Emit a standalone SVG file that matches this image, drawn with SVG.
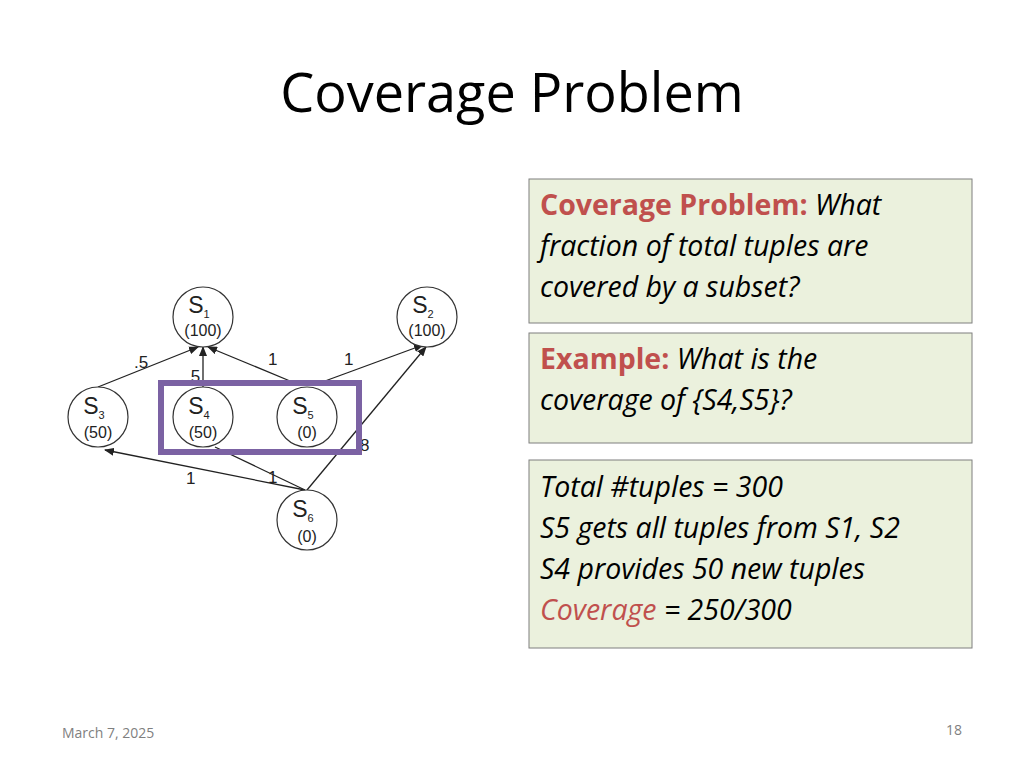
<svg xmlns="http://www.w3.org/2000/svg" width="1024" height="768" viewBox="0 0 1024 768">
<style>
.n{fill:#fff;stroke:#333;stroke-width:1.2}
.nl{font-family:"Liberation Sans",Arial,sans-serif;font-size:23px;fill:#222;text-anchor:middle}
.ns{font-size:11px}
.nv{font-family:"Liberation Sans",Arial,sans-serif;font-size:16px;fill:#222;text-anchor:middle}
.e{stroke:#222;stroke-width:1.3;fill:none}
.el{font-family:"Liberation Sans",Arial,sans-serif;font-size:17px;fill:#222}
.box{fill:#ebf1dd;stroke:#7f7f7f;stroke-width:1}
.t{font-family:"Open Sans","Liberation Sans",sans-serif;font-size:28.5px;font-style:italic;fill:#000}
.r{fill:#c0504d;font-style:normal;font-weight:bold}
</style>
<defs><marker id="a" markerWidth="10" markerHeight="8" refX="9" refY="4" orient="auto" markerUnits="userSpaceOnUse"><path d="M0,0L10,4L0,8z" fill="#222"/></marker></defs>
<rect width="1024" height="768" fill="#fff"/>
<text x="512" y="112" text-anchor="middle" font-family="Open Sans,Liberation Sans,sans-serif" font-size="54" fill="#000">Coverage Problem</text>
<g id="connectors">
<line class="e" x1="98" y1="387" x2="198" y2="347" marker-end="url(#a)"/>
<line class="e" x1="203" y1="387" x2="203" y2="347" marker-end="url(#a)"/>
<line class="e" x1="290" y1="381" x2="208" y2="347" marker-end="url(#a)"/>
<line class="e" x1="325" y1="381" x2="423" y2="345" marker-end="url(#a)"/>
<line class="e" x1="307" y1="490" x2="426" y2="347" marker-end="url(#a)"/>
<line class="e" x1="305" y1="490" x2="105" y2="450" marker-end="url(#a)"/>
<line class="e" x1="305" y1="490" x2="215" y2="447"/>
<text class="el" x="134" y="368">.5</text>
<text class="el" x="186" y="382">.5</text>
<text class="el" x="268" y="365">1</text>
<text class="el" x="344" y="365">1</text>
<text class="el" x="186" y="484">1</text>
<text class="el" x="268" y="483">1</text>
<text class="el" x="360" y="451">8</text>
</g>
<g id="S1"><circle class="n" cx="203" cy="317" r="30"/><text class="nl" x="199" y="313">S<tspan class="ns" dy="5">1</tspan></text><text class="nv" x="203" y="336">(100)</text></g>
<g id="S2"><circle class="n" cx="427" cy="317" r="30"/><text class="nl" x="423" y="313">S<tspan class="ns" dy="5">2</tspan></text><text class="nv" x="427" y="336">(100)</text></g>
<g id="S3"><circle class="n" cx="98" cy="417" r="30"/><text class="nl" x="94" y="414">S<tspan class="ns" dy="5">3</tspan></text><text class="nv" x="98" y="438">(50)</text></g>
<g id="S4"><circle class="n" cx="203" cy="417" r="30"/><text class="nl" x="199" y="414">S<tspan class="ns" dy="5">4</tspan></text><text class="nv" x="203" y="438">(50)</text></g>
<g id="S5"><circle class="n" cx="307" cy="417" r="30"/><text class="nl" x="303" y="414">S<tspan class="ns" dy="5">5</tspan></text><text class="nv" x="307" y="438">(0)</text></g>
<g id="S6"><circle class="n" cx="307" cy="520" r="30"/><text class="nl" x="303" y="517">S<tspan class="ns" dy="5">6</tspan></text><text class="nv" x="307" y="542">(0)</text></g>
<rect id="highlight" x="161" y="383" width="198" height="69" fill="none" stroke="#7b62a3" stroke-width="6"/>
<g id="box1"><rect class="box" x="529" y="179" width="443" height="144"/>
<text class="t" x="540" y="215"><tspan class="r">Coverage Problem:</tspan> What</text>
<text class="t" x="540" y="256">fraction of total tuples are</text>
<text class="t" x="540" y="297">covered by a subset?</text></g>
<g id="box2"><rect class="box" x="529" y="333" width="443" height="110"/>
<text class="t" x="540" y="369"><tspan class="r">Example:</tspan> What is the</text>
<text class="t" x="540" y="410">coverage of {S4,S5}?</text></g>
<g id="box3"><rect class="box" x="529" y="460" width="443" height="188"/>
<text class="t" x="540" y="497">Total #tuples = 300</text>
<text class="t" x="540" y="538">S5 gets all tuples from S1, S2</text>
<text class="t" x="540" y="579">S4 provides 50 new tuples</text>
<text class="t" x="540" y="620"><tspan fill="#c0504d">Coverage</tspan> = 250/300</text></g>
<text x="62" y="738" font-family="Open Sans,Liberation Sans,sans-serif" font-size="14" fill="#7f7f7f">March 7, 2025</text>
<text x="962" y="735" text-anchor="end" font-family="Open Sans,Liberation Sans,sans-serif" font-size="14" fill="#7f7f7f">18</text>
</svg>
